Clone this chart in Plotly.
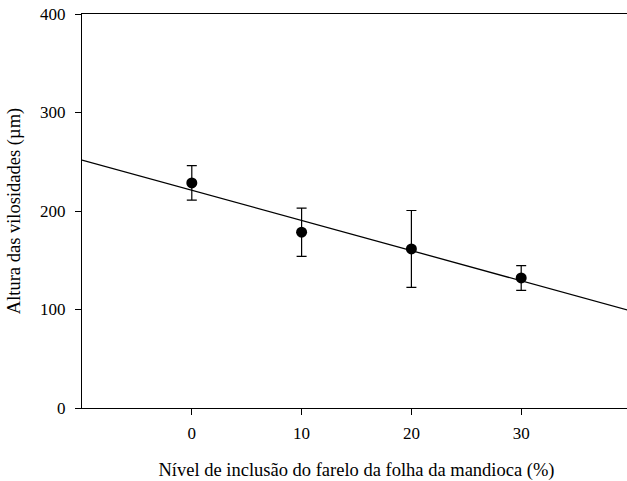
import numpy as np
import plotly.graph_objects as go

levels = [0, 10, 20, 30]
heights = [228.5, 178.5, 161.5, 132.0]
errors = [17.5, 24.5, 39.0, 12.5]
fit_x = [-10, 40]

slope, intercept = np.polyfit(levels, heights, 1)
fit_y = [intercept + slope * x for x in fit_x]

fig = go.Figure()
fig.add_trace(go.Scatter(
    x=fit_x, y=fit_y, mode="lines",
    line=dict(color="black", width=1.3), showlegend=False, hoverinfo="skip"))
fig.add_trace(go.Scatter(
    x=levels, y=heights, mode="markers",
    marker=dict(color="black", size=11),
    error_y=dict(type="data", array=errors, visible=True, color="black",
                 thickness=1.2, width=5),
    showlegend=False))

tick_font = dict(family="Liberation Serif, Times New Roman, serif", size=17, color="black")
title_font = dict(family="Liberation Serif, Times New Roman, serif", size=18.5, color="black")
fig.update_layout(
    width=632, height=481,
    margin=dict(l=82, r=1, t=14, b=73),
    paper_bgcolor="white", plot_bgcolor="white",
    font=tick_font,
    xaxis=dict(range=[-10, 40], tickvals=[0, 10, 20, 30], showgrid=False,
               zeroline=False, showline=True, linecolor="black", linewidth=1,
               mirror=True, ticks="outside", ticklen=6, tickcolor="black",
               tickfont=tick_font, ticklabelstandoff=4,
               title=dict(text="Nível de inclusão do farelo da folha da mandioca (%)",
                          font=title_font, standoff=21)),
    yaxis=dict(range=[0, 400], tickvals=[0, 100, 200, 300, 400], showgrid=False,
               zeroline=False, showline=True, linecolor="black", linewidth=1,
               ticks="outside", ticklen=6, tickcolor="black",
               tickfont=tick_font, ticklabelstandoff=6,
               title=dict(text="Altura das vilosidades (µm)", font=title_font, standoff=14)),
)
fig.write_html(
    "out.html",
    config={"displayModeBar": False},
    post_script="document.body.style.margin='0';document.body.style.overflow='hidden';",
)
